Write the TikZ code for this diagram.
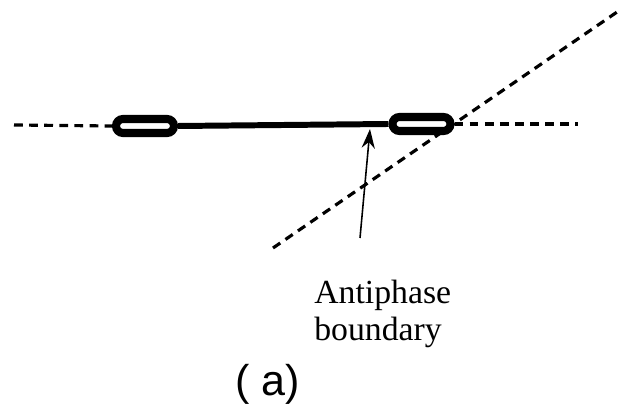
\documentclass[tikz,border=0pt]{standalone}
\usepackage{fontspec}
\setmainfont{Liberation Serif}
\setsansfont{Liberation Sans}
\usetikzlibrary{arrows.meta,positioning,calc}

\tikzset{
  capsule/.style={draw,line width=4.6pt,rounded corners=4pt,minimum width=33pt,minimum height=8pt,inner sep=0pt,fill=white},
  guide/.style={line width=1.8pt,dash pattern=on 5pt off 3.6pt},
  wall/.style={line width=3.4pt},
  pointer/.style={line width=0.9pt,-{Stealth[length=11pt,width=7.5pt]}}
}

\begin{document}
\begin{tikzpicture}[x=0.02cm,y=-0.02cm]
  \useasboundingbox (0,0) rectangle (624,404);
  % segment pinned by two capsules
  \node[capsule] (capl) at (145,126) {};
  \node[capsule] (capr) at (421.5,124) {};
  \coordinate (hl) at (14,125);
  \coordinate (hr) at (578,124);
  \coordinate (dlo) at (273,248);
  \coordinate (dhi) at (620,10);
  \draw[guide] (hl) -- (capl.west);
  \draw[guide] (capr.east) -- (hr);
  \draw[guide] (dlo) -- (dhi);
  \draw[wall] (capl.east) -- (capr.west);
  % label and pointer
  \node[anchor=base west,align=left,inner sep=0pt,font=\fontsize{19.2}{20.5}\selectfont] (apblabel) at (314,340) {Antiphase\\boundary};
  \coordinate (tail) at (360,238);
  \coordinate (tip) at (370,129);
  \draw[pointer] (tail) -- (tip);
  \node[anchor=base west,inner sep=0pt,font=\sffamily\fontsize{24.5}{26}\selectfont] (tag) at (235,395) {( a)};
\end{tikzpicture}
\end{document}
